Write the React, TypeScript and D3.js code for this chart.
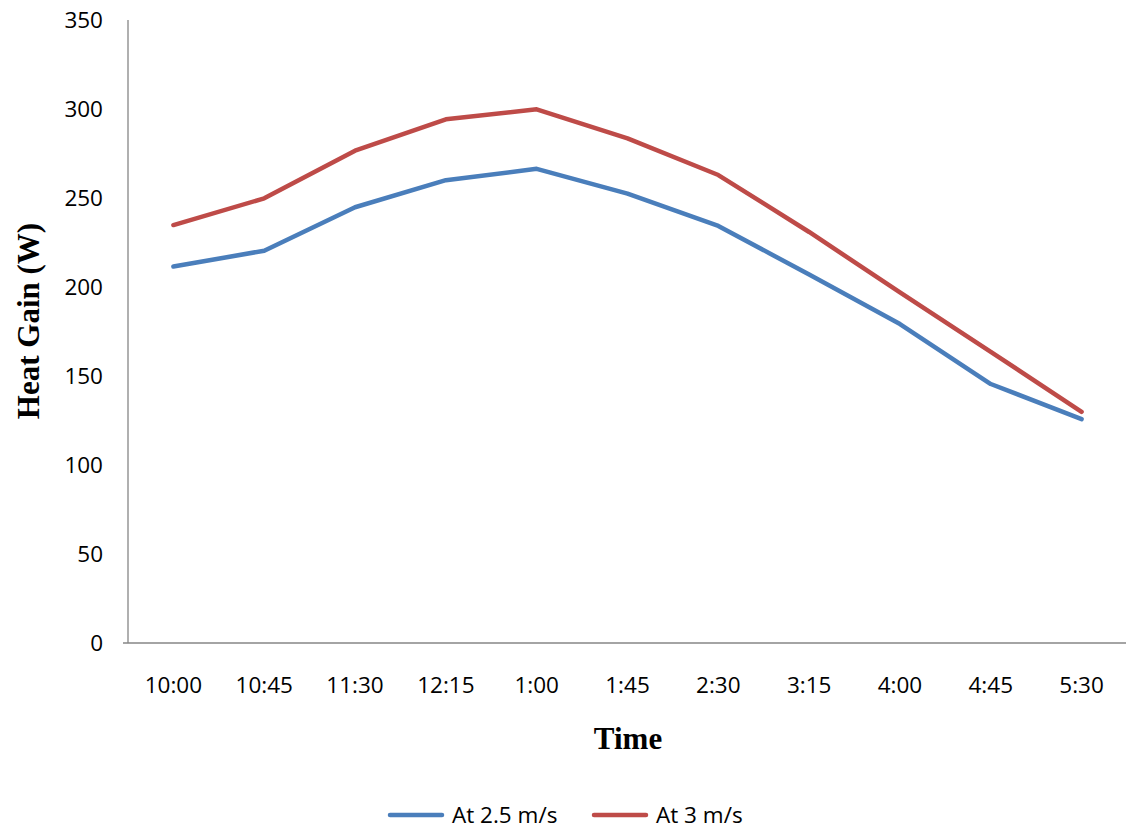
import React, { useEffect, useRef } from "react";
import * as d3 from "d3";

const categories = ["10:00", "10:45", "11:30", "12:15", "1:00", "1:45", "2:30", "3:15", "4:00", "4:45", "5:30"];
const series25 = [211.5, 220.4, 244.8, 260, 266.4, 252.5, 234.3, 207, 179.2, 145.5, 125.8];
const series3 = [234.8, 249.8, 276.6, 294.2, 299.8, 283.5, 262.9, 230.9, 197, 163.6, 129.9];
const yTicks = [0, 50, 100, 150, 200, 250, 300, 350];
const seriesNames = ["At 2.5 m/s", "At 3 m/s"];
const colors = ["#4A7EBB", "#BE4B48"];

export default function App() {
  const ref = useRef<SVGSVGElement>(null);
  useEffect(() => {
    const svg = d3.select(ref.current);
    svg.selectAll("*").remove();
    const W = 1126, H = 832;
    const left = 128, right = 1127, top = 20, bottom = 643;
    const font = "'Open Sans', 'Liberation Sans', sans-serif";
    const serif = "'Liberation Serif', 'Times New Roman', serif";
    const x = d3.scaleBand<string>().domain(categories).range([left, right]);
    const y = d3.scaleLinear().domain([0, 350]).range([bottom, top]);

    svg.append("rect").attr("width", W).attr("height", H).attr("fill", "#fff");

    svg.append("line").attr("x1", left).attr("x2", left).attr("y1", top).attr("y2", bottom)
      .attr("stroke", "#868686").attr("stroke-width", 1.3);
    svg.append("line").attr("x1", left - 5).attr("x2", right).attr("y1", bottom).attr("y2", bottom)
      .attr("stroke", "#868686").attr("stroke-width", 1.3);

    svg.selectAll(".yt").data(yTicks).enter().append("text")
      .attr("x", 103).attr("y", (d) => y(d)).attr("dy", "0.36em")
      .attr("text-anchor", "end").attr("font-family", font).attr("font-size", 22.5).attr("fill", "#000")
      .text((d) => d);

    svg.selectAll(".xt").data(categories).enter().append("text")
      .attr("x", (d) => (x(d) as number) + x.bandwidth() / 2).attr("y", 685)
      .attr("dy", "0.36em").attr("text-anchor", "middle")
      .attr("font-family", font).attr("font-size", 22.5).attr("fill", "#000")
      .text((d) => d);

    const line = d3.line<number>()
      .x((_, i) => (x(categories[i]) as number) + x.bandwidth() / 2)
      .y((d) => y(d));

    [series25, series3].forEach((s, i) => {
      svg.append("path").attr("d", line(s) as string).attr("fill", "none")
        .attr("stroke", colors[i]).attr("stroke-width", 4.5)
        .attr("stroke-linejoin", "round").attr("stroke-linecap", "round");
    });

    svg.append("text").attr("transform", "translate(39,321) rotate(-90)")
      .attr("text-anchor", "middle").attr("font-family", serif)
      .attr("font-weight", "bold").attr("font-size", 31).text("Heat Gain (W)");
    svg.append("text").attr("x", 628).attr("y", 749)
      .attr("text-anchor", "middle").attr("font-family", serif)
      .attr("font-weight", "bold").attr("font-size", 31).text("Time");

    const legendX = [390, 594];
    seriesNames.forEach((n, i) => {
      svg.append("line").attr("x1", legendX[i]).attr("x2", legendX[i] + 52).attr("y1", 815).attr("y2", 815)
        .attr("stroke", colors[i]).attr("stroke-width", 4.5).attr("stroke-linecap", "round");
      svg.append("text").attr("x", legendX[i] + 62).attr("y", 815).attr("dy", "0.36em")
        .attr("font-family", font).attr("font-size", 22.5).attr("fill", "#000").text(n);
    });
  }, []);
  return <svg ref={ref} width={1126} height={832} style={{ display: "block", position: "absolute", left: 0, top: 0 }} />;
}
